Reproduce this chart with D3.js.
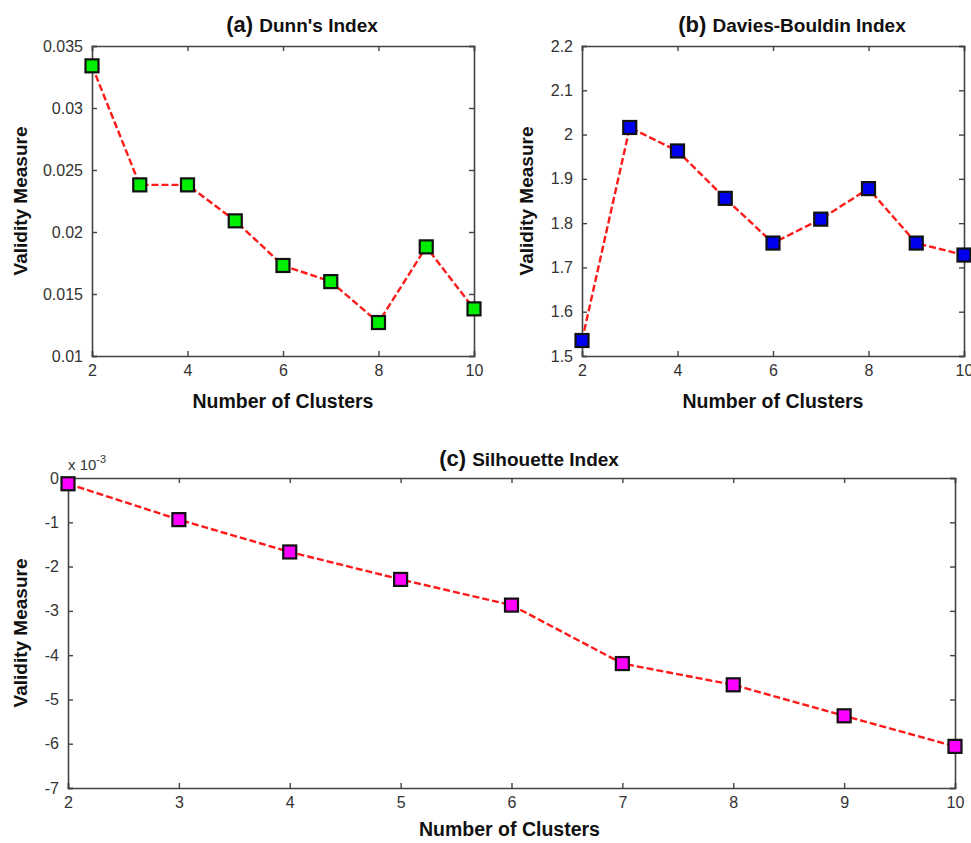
<!DOCTYPE html>
<html>
  <head>
    <meta charset="utf-8">
    <title>Cluster validity indices</title>
    <script src="https://d3js.org/d3.v7.min.js"></script>
    <style>
      body { margin: 0; background: #fff; }
      text { font-family: "Liberation Sans", Arial, sans-serif; }
    </style>
  </head>
  <body>
    <svg width="971" height="843"></svg>

    <script>
      // data
      var clusters = [2, 3, 4, 5, 6, 7, 8, 9, 10];
      var dunn = [0.0334, 0.0238, 0.0238, 0.0209, 0.0173, 0.0160, 0.0127, 0.0188, 0.0138];
      var daviesBouldin = [1.535, 2.016, 1.963, 1.856, 1.755, 1.809, 1.878, 1.755, 1.728];
      var silhouette = [-0.13, -0.94, -1.67, -2.29, -2.87, -4.19, -4.67, -5.37, -6.06]; // x 10^-3

      var dunnTicks = [0.01, 0.015, 0.02, 0.025, 0.03, 0.035];
      var dunnLabels = ["0.01", "0.015", "0.02", "0.025", "0.03", "0.035"];
      var dbTicks = [1.5, 1.6, 1.7, 1.8, 1.9, 2, 2.1, 2.2];
      var dbLabels = ["1.5", "1.6", "1.7", "1.8", "1.9", "2", "2.1", "2.2"];
      var silTicks = [0, -1, -2, -3, -4, -5, -6, -7];
      var evenX = [2, 4, 6, 8, 10];

      var svg = d3.select("svg");

      function panel(opt) {
        var g = svg.append("g");
        var x = d3.scaleLinear().domain([2, 10]).range([opt.left, opt.right]);
        var y = d3.scaleLinear().domain(opt.yDomain).range([opt.bottom, opt.top]);

        // inner ticks on all four sides, matlab style
        var tickLen = 5;
        var bottomAxis = d3.axisBottom(x).tickValues(opt.xTicks).tickSize(-tickLen).tickPadding(9)
          .tickFormat(d3.format("d"));
        var leftAxis = d3.axisLeft(y).tickValues(opt.yTicks).tickSize(-tickLen).tickPadding(9)
          .tickFormat(function(d, i) { return opt.yLabels[i]; });
        var topAxis = d3.axisTop(x).tickValues(opt.xTicks).tickSize(-tickLen).tickFormat("");
        var rightAxis = d3.axisRight(y).tickValues(opt.yTicks).tickSize(-tickLen).tickFormat("");

        g.append("g").attr("transform", "translate(0," + opt.bottom + ")").call(bottomAxis);
        g.append("g").attr("transform", "translate(" + opt.left + ",0)").call(leftAxis);
        g.append("g").attr("transform", "translate(0," + opt.top + ")").call(topAxis);
        g.append("g").attr("transform", "translate(" + opt.right + ",0)").call(rightAxis);

        g.selectAll(".domain").attr("stroke", "#444").attr("stroke-width", 1.6);
        g.selectAll(".tick line").attr("stroke", "#444").attr("stroke-width", 1.4);
        g.selectAll(".tick text").attr("fill", "#333").style("font-size", "16px")
          .style("font-family", "'Liberation Sans', Arial, sans-serif");

        // dashed red line
        var pts = clusters.map(function(c, i) { return [c, opt.values[i]]; });
        var line = d3.line()
          .x(function(d) { return x(d[0]); })
          .y(function(d) { return y(d[1]); });
        g.append("path")
          .datum(pts)
          .attr("d", line)
          .attr("fill", "none")
          .attr("stroke", "#ff1a1a")
          .attr("stroke-width", 2.4)
          .attr("stroke-dasharray", "7,3");

        // square markers
        var s = 13;
        g.selectAll("rect.mk")
          .data(pts)
          .enter().append("rect")
          .attr("class", "mk")
          .attr("x", function(d) { return x(d[0]) - s / 2; })
          .attr("y", function(d) { return y(d[1]) - s / 2; })
          .attr("width", s)
          .attr("height", s)
          .attr("fill", opt.color)
          .attr("stroke", "#111")
          .attr("stroke-width", 2.2);

        // title
        var t = g.append("text")
          .attr("x", opt.titleX)
          .attr("y", opt.titleY)
          .attr("text-anchor", "middle")
          .attr("font-weight", "bold")
          .attr("fill", "#111");
        t.append("tspan").attr("font-size", "22px").text(opt.tag + " ");
        t.append("tspan").attr("font-size", "19px").text(opt.title);

        // axis labels
        g.append("text")
          .attr("x", (opt.left + opt.right) / 2 + (opt.xlabDx || 0))
          .attr("y", opt.bottom + (opt.xlabDy || 52))
          .attr("text-anchor", "middle")
          .attr("font-weight", "bold")
          .attr("font-size", "19.5px")
          .attr("fill", "#111")
          .text("Number of Clusters");

        g.append("text")
          .attr("transform", "translate(" + opt.ylabX + "," + (opt.top + opt.bottom) / 2 + ") rotate(-90)")
          .attr("text-anchor", "middle")
          .attr("font-weight", "bold")
          .attr("font-size", "19px")
          .attr("fill", "#111")
          .text("Validity Measure");

        return g;
      }

      panel({
        left: 92, right: 474, top: 46, bottom: 356,
        yDomain: [0.01, 0.035], yTicks: dunnTicks, yLabels: dunnLabels,
        xTicks: evenX, values: dunn, color: "#00ee00",
        tag: "(a)", title: "Dunn's Index", titleX: 302, titleY: 32,
        ylabX: 27
      });

      panel({
        left: 582, right: 964, top: 46, bottom: 356,
        yDomain: [1.5, 2.2], yTicks: dbTicks, yLabels: dbLabels,
        xTicks: evenX, values: daviesBouldin, color: "#0000ee",
        tag: "(b)", title: "Davies-Bouldin Index", titleX: 792, titleY: 32,
        ylabX: 533
      });

      var gc = panel({
        left: 68, right: 955, top: 478, bottom: 788,
        yDomain: [-7, 0], yTicks: silTicks, yLabels: silTicks.map(String),
        xTicks: clusters, values: silhouette, color: "#ff00ff",
        tag: "(c)", title: "Silhouette Index", titleX: 529, titleY: 466,
        ylabX: 27, xlabDx: -2, xlabDy: 48
      });

      // exponent label
      var ex = gc.append("text")
        .attr("x", 68)
        .attr("y", 470)
        .attr("fill", "#333")
        .attr("font-size", "15px");
      ex.append("tspan").text("x 10");
      ex.append("tspan").attr("dy", -7).attr("font-size", "11px").text("-3");
    </script>
  </body>
</html>
